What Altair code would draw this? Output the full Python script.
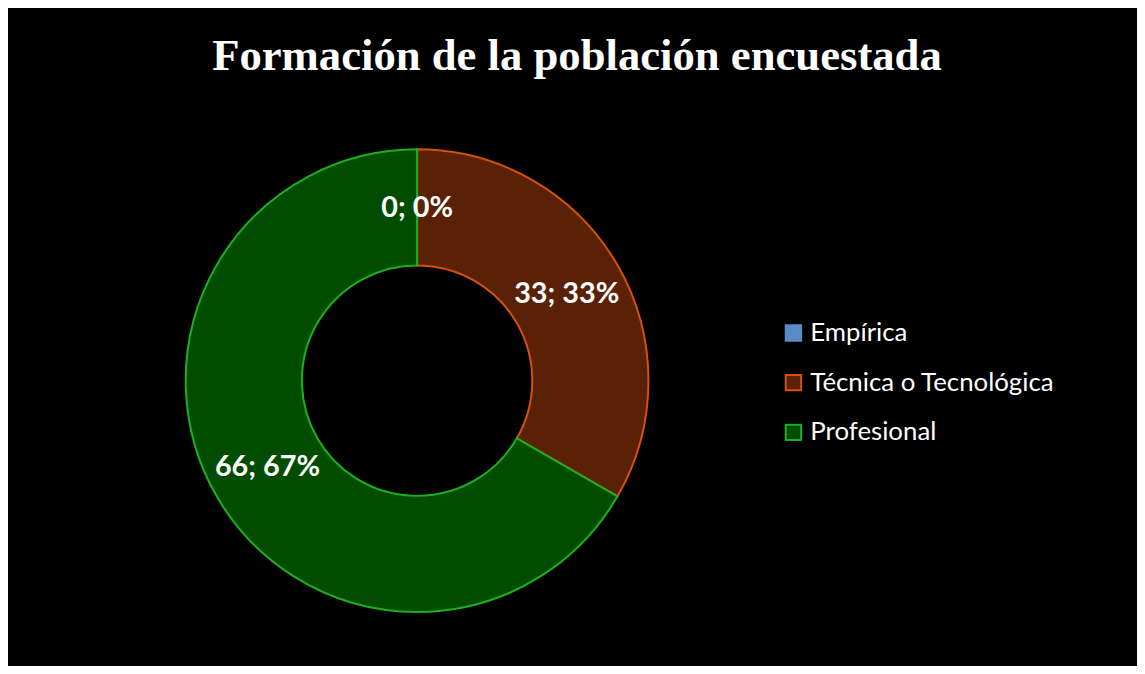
import altair as alt
import pandas as pd

categories = ["Empírica", "Técnica o Tecnológica", "Profesional"]
values = [0, 33, 66]
fill_colors = ["#5B8BC7", "#5A2107", "#004D00"]
stroke_colors = ["#5B8BC7", "#D4520F", "#1DB01D"]
title_text = "Formación de la población encuestada"

df = pd.DataFrame({"Formacion": categories, "Cantidad": values, "orden": [0, 1, 2]})

CX, CY = 412, 373

base = alt.Chart(df).transform_joinaggregate(
    total="sum(Cantidad)"
).transform_calculate(
    etiqueta="datum.Cantidad + '; ' + format(datum.Cantidad / datum.total, '.0%')"
).encode(
    theta=alt.Theta("Cantidad:Q", stack=True),
    order=alt.Order("orden:Q"),
)

color_scale = alt.Scale(domain=categories, range=fill_colors)
stroke_scale = alt.Scale(domain=categories, range=stroke_colors)


def legend():
    return alt.Legend(title=None, orient="none", legendX=778, legendY=312,
                      symbolType="square", symbolSize=240,
                      symbolStrokeWidth=2,
                      labelColor="white", labelFont="Lato",
                      labelFontSize=26, labelOffset=4,
                      rowPadding=24, labelLimit=400)


arcs = base.mark_arc(outerRadius=233, innerRadius=116, strokeWidth=2).encode(
    x=alt.value(CX),
    y=alt.value(CY),
    fill=alt.Fill("Formacion:N", scale=color_scale, sort=categories, legend=legend()),
    stroke=alt.Stroke("Formacion:N", scale=stroke_scale, sort=categories, legend=legend()),
)

labels = base.mark_text(font="Lato", fontWeight="bold", fontSize=29, color="white",
                        baseline="middle", align="center").encode(
    x=alt.value(CX),
    y=alt.value(CY),
    radius=alt.value(174),
    text="etiqueta:N",
)

title = alt.Chart(pd.DataFrame({"t": [title_text]})).mark_text(
    font="Liberation Serif", fontWeight="bold", fontSize=45, color="white",
    align="center", baseline="alphabetic"
).encode(
    x=alt.value(573),
    y=alt.value(60),
    text="t:N",
)

chart = alt.layer(arcs, labels, title).properties(
    width=1137, height=658,
    autosize=alt.AutoSizeParams(type="none"),
    padding=0,
    background="black",
).configure_view(stroke=None)

chart.save("out.html", embed_options={"renderer": "svg", "actions": False})
